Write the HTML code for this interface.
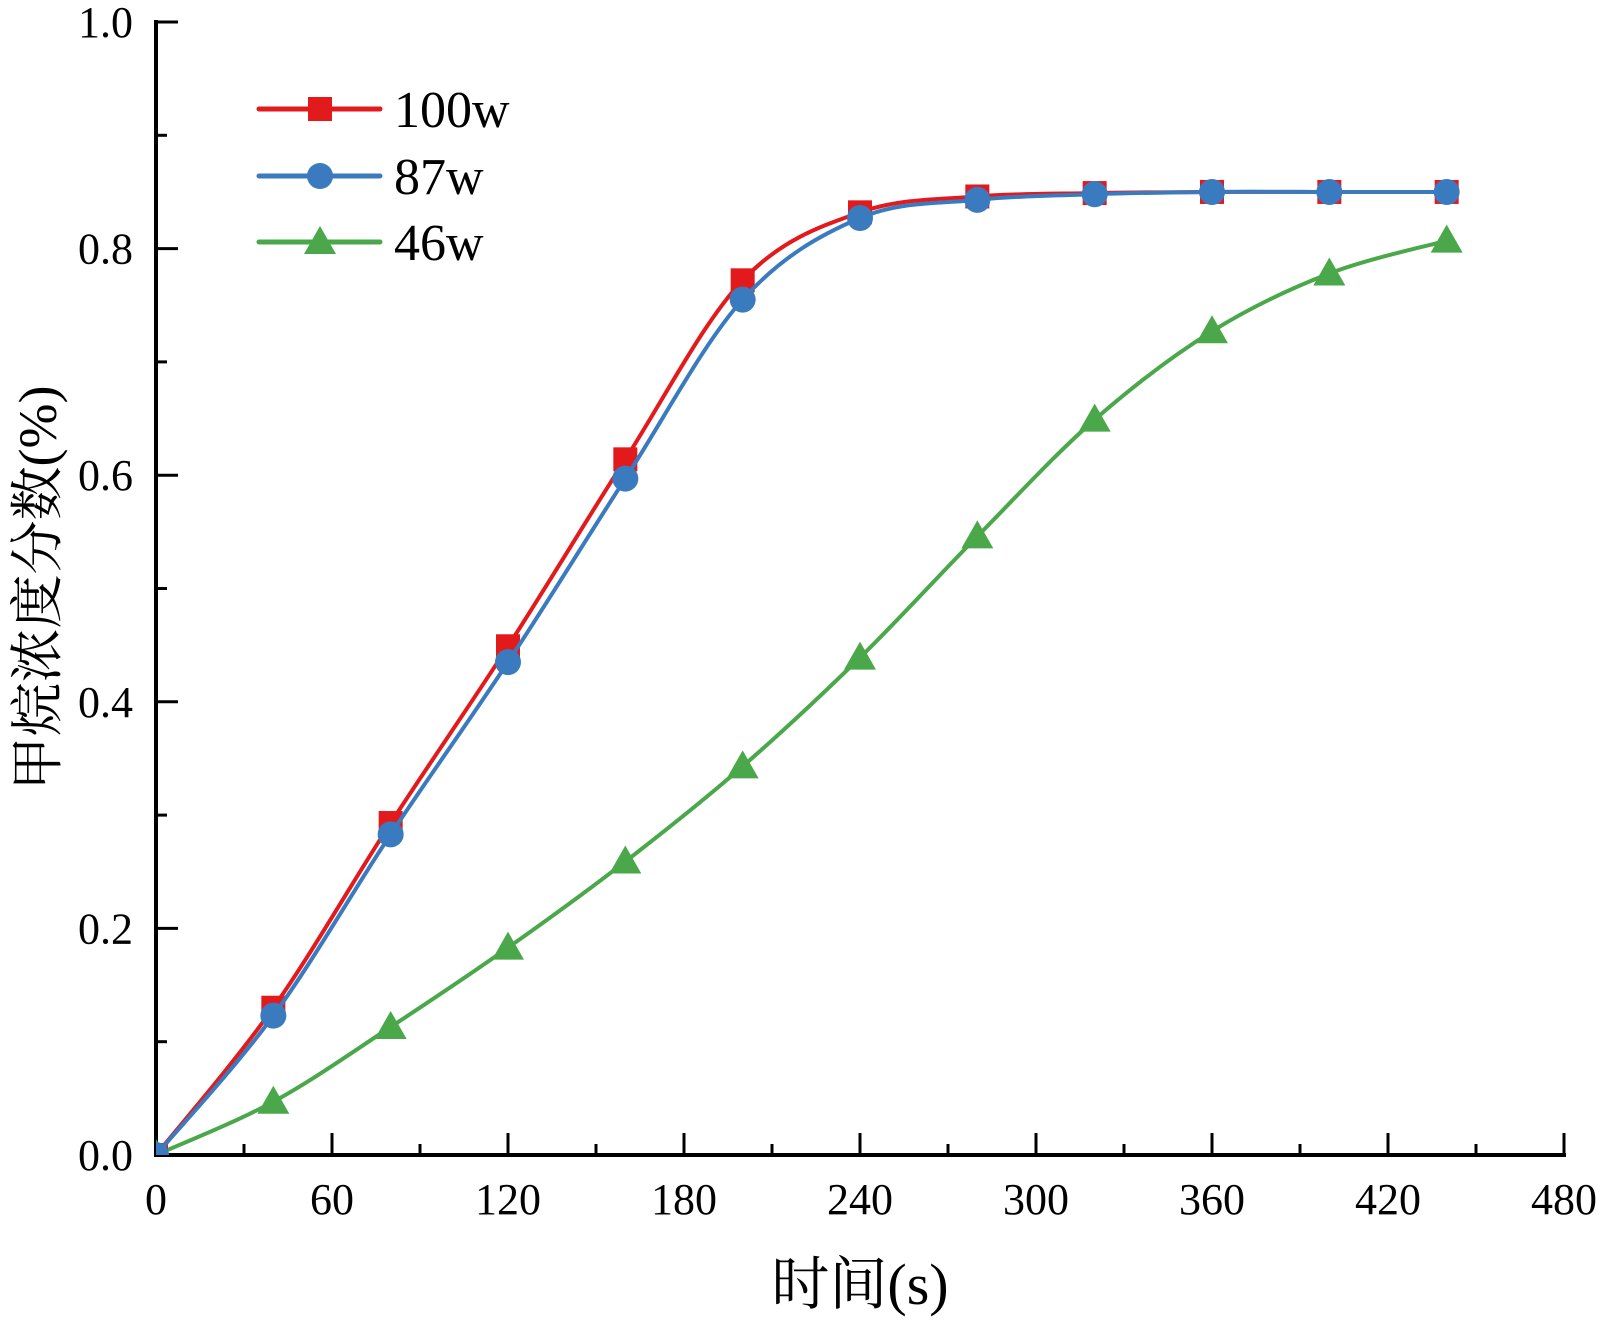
<!DOCTYPE html>
<html><head><meta charset="utf-8"><style>
html,body{margin:0;padding:0;background:#fff;}
svg{display:block;font-family:"Liberation Serif","Noto Serif CJK SC",serif;}
</style></head><body>
<svg id="chart" width="1600" height="1320" viewBox="0 0 1600 1320"></svg>
<script>
const times = [0,40,80,120,160,200,240,280,320,360,400,440];
const s100 = [0,0.130,0.293,0.449,0.614,0.772,0.832,0.846,0.849,0.850,0.850,0.850];
const s87 = [0,0.123,0.283,0.435,0.597,0.755,0.827,0.843,0.848,0.850,0.850,0.850];
const s46 = [0,0.047,0.113,0.183,0.259,0.343,0.439,0.546,0.649,0.727,0.778,0.807];
const xTicks = [0,60,120,180,240,300,360,420,480];
const yTicks = [0.0,0.2,0.4,0.6,0.8,1.0];
const seriesNames = ["100w","87w","46w"];

const NS="http://www.w3.org/2000/svg";
const svg=document.getElementById('chart');
const X0=156,X1=1564,Y0=1155,Y1=22;
const xs=t=>X0+(t/480)*(X1-X0);
const ys=v=>Y0-v*(Y0-Y1);
function mk(tag,attrs,parent){const e=document.createElementNS(NS,tag);for(const k in attrs)e.setAttribute(k,attrs[k]);(parent||svg).appendChild(e);return e;}

let ax=mk('g',{});


mk('line',{x1:X0,y1:Y0,x2:X1+2,y2:Y0,stroke:'#000','stroke-width':4},ax);
mk('line',{x1:X0,y1:Y0+2,x2:X0,y2:Y1-2,stroke:'#000','stroke-width':4},ax);
for(let t=0;t<=480;t+=30){const maj=t%60===0;mk('line',{x1:xs(t),y1:Y0,x2:xs(t),y2:Y0-(maj?22:11),stroke:'#000','stroke-width':3},ax);}
for(let i=0;i<=10;i++){const v=i/10;const maj=i%2===0;mk('line',{x1:X0,y1:ys(v),x2:X0+(maj?22:11),y2:ys(v),stroke:'#000','stroke-width':3},ax);}
xTicks.forEach(t=>{const e=mk('text',{x:xs(t),y:1214,'text-anchor':'middle','font-size':44},ax);e.textContent=t;

});
yTicks.forEach(v=>{const e=mk('text',{x:133,y:ys(v)+15,'text-anchor':'end','font-size':44},ax);e.textContent=v.toFixed(1);

});
let xt=mk('text',{x:860,y:1304,'text-anchor':'middle','font-size':58});xt.textContent='时间(s)';


let yt=mk('text',{x:0,y:0,'text-anchor':'middle','font-size':54,transform:'translate(56,588) rotate(-90)'});yt.textContent='甲烷浓度分数(%)';



function pathFor(vals){
  const p=times.map((t,i)=>[xs(t),ys(vals[i])]);
  let d='M'+p[0][0]+','+p[0][1];
  for(let i=0;i<p.length-1;i++){
    const p0=p[i-1]||p[i],p1=p[i],p2=p[i+1],p3=p[i+2]||p2;
    const c1=[p1[0]+(p2[0]-p0[0])/6,p1[1]+(p2[1]-p0[1])/6];
    const c2=[p2[0]-(p3[0]-p1[0])/6,p2[1]-(p3[1]-p1[1])/6];
    d+=` C${c1[0]},${c1[1]} ${c2[0]},${c2[1]} ${p2[0]},${p2[1]}`;
  }
  return d;
}
function marker(type,x,y,color,g){
  let e;
  if(type==='sq') e=mk('rect',{x:x-12,y:y-12,width:24,height:24,fill:color},g);
  else if(type==='ci') e=mk('circle',{cx:x,cy:y,r:13,fill:color},g);
  else e=mk('polygon',{points:`${x},${y-16} ${x-16},${y+12} ${x+16},${y+12}`,fill:color},g);
  return e;
}
const defs=[[s46,'#4aa84a','tr'],[s100,'#e31a1c','sq'],[s87,'#3a7bbf','ci']];
const names={tr:'46w',sq:'100w',ci:'87w'};
const clip=mk('clipPath',{id:'cp'});mk('rect',{x:X0,y:0,width:1600,height:Y0},clip);
defs.forEach(([vals,col,type])=>{
  const g=mk('g',{'clip-path':'url(#cp)'});
  
  
  mk('path',{d:pathFor(vals),fill:'none',stroke:col,'stroke-width':4},g);
  times.forEach((t,i)=>{const m=marker(type,xs(t),ys(vals[i]),col,g);
    
    });
});
const leg=[['#e31a1c','sq',109],['#3a7bbf','ci',176],['#4aa84a','tr',242]];
leg.forEach(([col,type,y],i)=>{
  const g=mk('g',{});
  
  
  mk('line',{x1:259,y1:y,x2:380,y2:y,stroke:col,'stroke-width':5,'stroke-linecap':'round'},g);
  marker(type,320,y,col,g);
  const e=mk('text',{x:394,y:y+18,'font-size':52},g);e.textContent=seriesNames[i];
});
</script>
</body></html>
